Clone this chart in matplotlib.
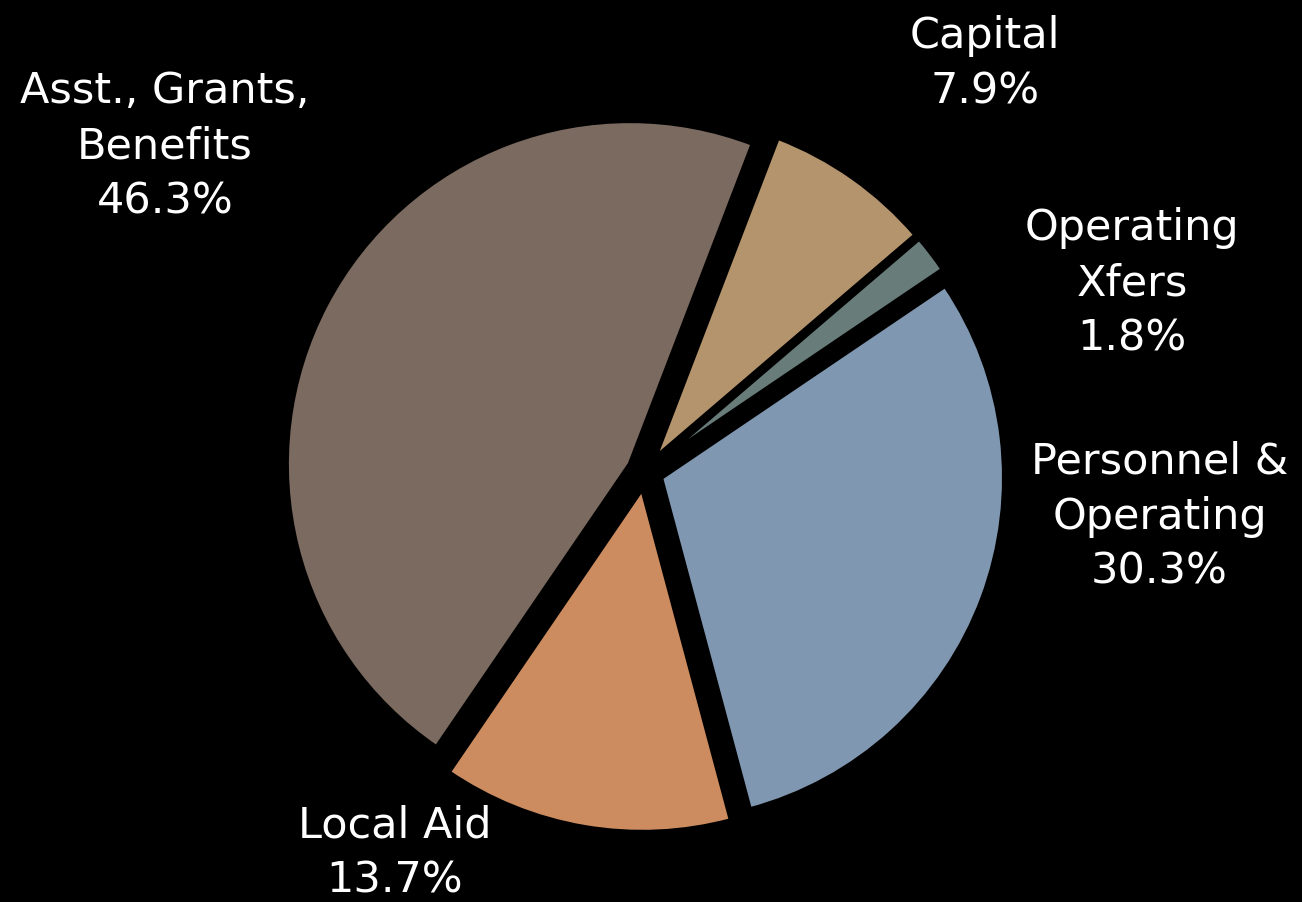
import matplotlib
matplotlib.use("Agg")
import matplotlib.pyplot as plt

labels = ["Capital", "Operating\nXfers", "Personnel &\nOperating", "Local Aid", "Asst., Grants,\nBenefits"]
shares = [7.9, 1.8, 30.3, 13.7, 46.3]
colors = ["#b4946c", "#687c7a", "#7f97b0", "#cc8c5f", "#7b6a5f"]
# label centres in pie-radius units
label_pos = [(0.99, 1.19), (1.42, 0.55), (1.50, -0.13), (-0.73, -1.11), (-1.40, 0.95)]

R = 343.0
cx, cy = 645.0, 472.0
W, H = 1302, 902

fig = plt.figure(figsize=(W / 100, H / 100), dpi=100, facecolor="black")
ax = fig.add_axes([0, 0, 1, 1])
ax.set_facecolor("black")

wedges, _ = ax.pie(shares, colors=colors, startangle=69, counterclock=False,
                   explode=[0.05] * len(shares), radius=1.0,
                   wedgeprops=dict(edgecolor="black", linewidth=3))

for lab, v, (x, y) in zip(labels, shares, label_pos):
    ax.text(x, y, f"{lab}\n{v:.1f}%", color="white", fontsize=31, family="DejaVu Sans",
            ha="center", va="center", linespacing=1.4)

ax.set_xlim(-cx / R, (W - cx) / R)
ax.set_ylim(-(H - cy) / R, cy / R)
ax.set_aspect("equal")
ax.axis("off")

fig.savefig("out.png", dpi=100, facecolor="black")
